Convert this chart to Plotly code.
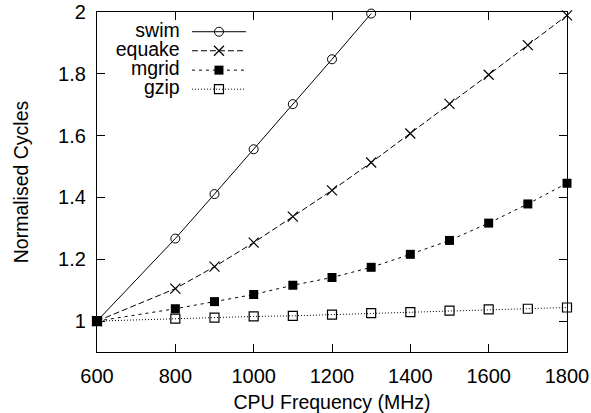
import plotly.graph_objects as go

freq = [600, 800, 900, 1000, 1100, 1200, 1300, 1400, 1500, 1600, 1700, 1800]
swim_freq = [600, 800, 900, 1000, 1100, 1200, 1300]
swim = [1.0, 1.267, 1.411, 1.556, 1.702, 1.847, 1.995]
equake = [1.0, 1.105, 1.176, 1.254, 1.338, 1.423, 1.513, 1.607, 1.703, 1.797, 1.893, 1.989]
mgrid = [1.0, 1.040, 1.063, 1.086, 1.116, 1.141, 1.174, 1.216, 1.261, 1.317, 1.379, 1.446]
gzip = [1.0, 1.008, 1.011, 1.015, 1.017, 1.021, 1.026, 1.029, 1.034, 1.038, 1.040, 1.044]

x_ticks = [600, 800, 1000, 1200, 1400, 1600, 1800]
y_ticks = [1, 1.2, 1.4, 1.6, 1.8, 2]

series = [
    ("swim", swim_freq, swim, "solid", dict(symbol="circle-open", size=9, color="black", line=dict(width=1, color="black"))),
    ("equake", freq, equake, "6px,3px", dict(symbol="x-thin", size=10, color="black", line=dict(width=1.2, color="black"))),
    ("mgrid", freq, mgrid, "3px,4px", dict(symbol="square", size=9, color="black", line=dict(width=0, color="black"))),
    ("gzip", freq, gzip, "1px,2px", dict(symbol="square-open", size=9, color="black", line=dict(width=1.2, color="black"))),
]

FONT = "Liberation Sans, Arial, Helvetica, sans-serif"
fig = go.Figure()
for name, xs, ys, dash, marker in series:
    fig.add_trace(go.Scatter(x=xs, y=ys, mode="lines+markers", name=name,
                             line=dict(color="black", width=1, dash=dash),
                             marker=marker, cliponaxis=False, showlegend=False))

# custom legend (text left of sample), gnuplot style
leg_rows = [0.942, 0.886, 0.829, 0.773]
leg_x = [0.202, 0.2595, 0.317]
leg_text_x = 0.176
for (name, xs, ys, dash, marker), ry in zip(series, leg_rows):
    fig.add_trace(go.Scatter(x=leg_x, y=[ry] * 3, mode="lines", xaxis="x2", yaxis="y2",
                             line=dict(color="black", width=1, dash=dash), showlegend=False,
                             hoverinfo="skip"))
    fig.add_trace(go.Scatter(x=[leg_x[1]], y=[ry], mode="markers", xaxis="x2", yaxis="y2",
                             marker=marker, showlegend=False, hoverinfo="skip"))
    fig.add_trace(go.Scatter(x=[leg_text_x], y=[ry], mode="text", xaxis="x2", yaxis="y2",
                             text=[name], textposition="middle left",
                             textfont=dict(family=FONT, size=19.5, color="black"),
                             showlegend=False, hoverinfo="skip"))

axis_common = dict(showline=True, linecolor="black", linewidth=1.3, mirror="ticks",
                   ticks="inside", ticklen=8, tickwidth=1, tickcolor="black",
                   showgrid=False, zeroline=False, ticklabelstandoff=6, automargin=False,
                   tickfont=dict(family=FONT, size=20, color="black"))

fig.update_layout(
    width=591, height=413,
    margin=dict(l=97, r=24, t=12, b=61),
    plot_bgcolor="white", paper_bgcolor="white",
    xaxis=dict(range=[600, 1800], tickvals=x_ticks,
               title=dict(text="CPU Frequency (MHz)", font=dict(family=FONT, size=19.5, color="black"), standoff=10),
               **axis_common),
    yaxis=dict(range=[0.9, 2], tickvals=y_ticks,
               title=dict(text="Normalised Cycles", font=dict(family=FONT, size=19.5, color="black"), standoff=24),
               **axis_common),
    xaxis2=dict(range=[0, 1], domain=[0, 1], overlaying="x", visible=False, anchor="y2"),
    yaxis2=dict(range=[0, 1], domain=[0, 1], overlaying="y", visible=False, anchor="x2"),
)

fig.write_html("out.html")
